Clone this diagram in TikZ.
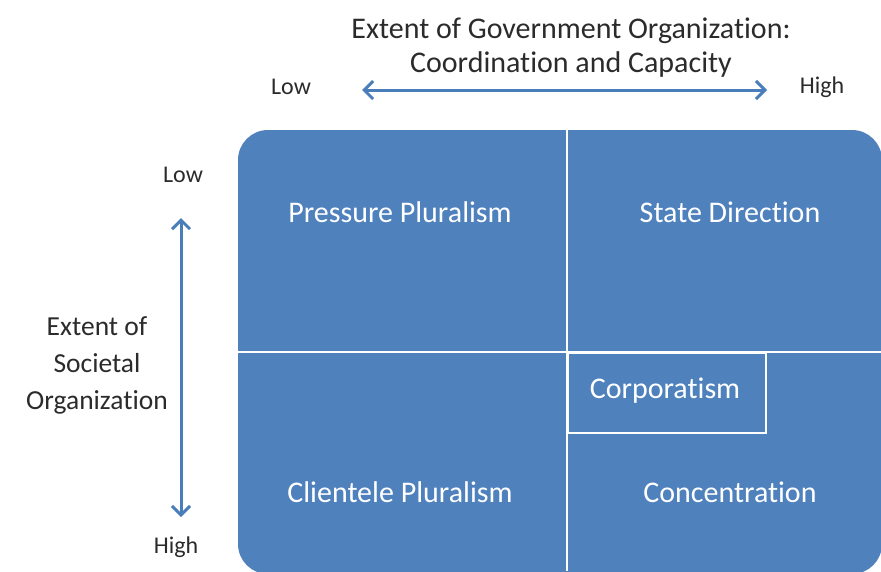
\documentclass[tikz,border=0pt]{standalone}
\usepackage{fontspec}
\setmainfont[Ligatures=NoCommon]{Carlito}
\usetikzlibrary{arrows.meta}
\definecolor{qblue}{HTML}{4F81BD}
\definecolor{arrblue}{HTML}{4A7EBB}
\definecolor{txtgray}{HTML}{2B2B2B}
\begin{document}
\begin{tikzpicture}[x=1pt,y=-1pt,
  celltext/.style={text=white,font=\fontsize{30}{34}\selectfont,inner sep=0pt},
  axistext/.style={text=txtgray,font=\fontsize{30}{34}\selectfont,align=center,inner sep=0pt},
  sidetext/.style={text=txtgray,font=\fontsize{27.5}{37}\selectfont,align=center,inner sep=0pt},
  endtext/.style={text=txtgray,font=\fontsize{24}{26}\selectfont,inner sep=0pt},
  axisarrow/.style={draw=arrblue,line width=3pt,{Straight Barb[length=9pt,width=18pt,line width=3pt]}-{Straight Barb[length=9pt,width=18pt,line width=3pt]}},
  divider/.style={draw=white,line width=2pt}]
\useasboundingbox (0,0) rectangle (881,571);
\begin{scope}
\clip (0,0) rectangle (881,571);
\path[fill=qblue,rounded corners=30pt] (238,130) rectangle (882,574);
\end{scope}
% dividers
\coordinate (vtop) at (567,130);
\coordinate (vbot) at (567,571);
\coordinate (hl) at (238,352);
\coordinate (hr) at (881,352);
\draw[divider] (vtop) -- (vbot);
\draw[divider] (hl) -- (hr);
\node[draw=white,line width=2pt,minimum width=198pt,minimum height=80pt,inner sep=0pt,anchor=north west] (corpbox) at (567,352) {};
% cell labels
\node[celltext] (pp) at (400,212) {Pressure Pluralism};
\node[celltext] (sd) at (730,212) {State Direction};
\node[celltext] (corp) at (665,391) {Corporatism};
\node[celltext] (cp) at (400,492) {Clientele Pluralism};
\node[celltext] (conc) at (730,492) {Concentration};
% top axis
\node[axistext] (gov) at (571,48) {Extent of Government Organization:\\Coordination and Capacity};
\node[endtext] (lowx) at (291,87) {Low};
\node[endtext] (highx) at (822,87) {High};
\coordinate (ax1) at (362,90);
\coordinate (ax2) at (767,90);
\draw[axisarrow] (ax1) -- (ax2);
% left axis
\node[endtext] (lowy) at (183,175) {Low};
\node[endtext] (highy) at (176,547) {High};
\node[sidetext] (soc) at (97,365) {Extent of\\Societal\\Organization};
\coordinate (ay1) at (181,218);
\coordinate (ay2) at (181,517);
\draw[axisarrow] (ay1) -- (ay2);
\end{tikzpicture}
\end{document}
